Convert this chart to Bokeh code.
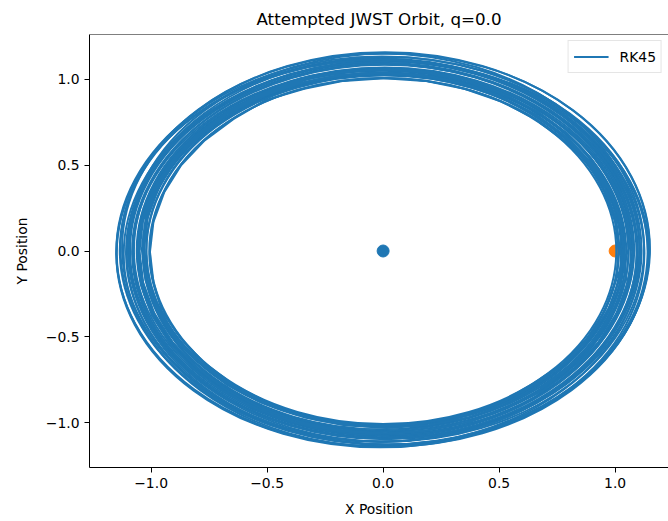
from bokeh.plotting import figure
from bokeh.models import Range1d, FixedTicker, Span
from bokeh.embed import file_html
from bokeh.resources import INLINE

# ---------------- data ----------------
sun_x = [0.0]
sun_y = [0.0]
earth_x = [1.0]
earth_y = [0.0]

x_ticks = [-1.0, -0.5, 0.0, 0.5, 1.0]
x_tick_labels = ["\u22121.0", "\u22120.5", "0.0", "0.5", "1.0"]
y_ticks = [-1.0, -0.5, 0.0, 0.5, 1.0]
y_tick_labels = ["\u22121.0", "\u22120.5", "0.0", "0.5", "1.0"]

# smooth revolutions of the orbit: centre, full width and full height of each loop
loop_cx = [0.000, 0.004, -0.003, 0.005, -0.004, 0.002, 0.006, -0.006, 0.003, -0.002,
           0.007, -0.005, 0.004, -0.007, 0.008, 0.000, -0.008, 0.010,
           0.015, -0.015, 0.020, -0.010, 0.012, -0.020, 0.025, -0.005, 0.008, -0.012]
loop_cy = [0.000, -0.003, 0.004, 0.002, -0.004, 0.006, -0.005, 0.003, -0.002, 0.005,
           0.000, -0.006, 0.007, 0.002, -0.004, 0.008, -0.007, 0.004,
           0.010, 0.005, -0.010, 0.020, -0.018, -0.012, 0.012, -0.003, 0.015, -0.015]
loop_w = [2.010, 2.024, 2.036, 2.050, 2.060, 2.072, 2.084, 2.096, 2.108, 2.120,
          2.132, 2.144, 2.156, 2.168, 2.180, 2.190, 2.200, 2.208,
          2.220, 2.240, 2.250, 2.230, 2.260, 2.256, 2.250, 2.290, 2.280, 2.276]
loop_h = [2.016, 2.020, 2.044, 2.040, 2.068, 2.060, 2.090, 2.092, 2.116, 2.112,
          2.136, 2.140, 2.160, 2.172, 2.176, 2.196, 2.204, 2.200,
          2.240, 2.230, 2.236, 2.260, 2.244, 2.250, 2.276, 2.270, 2.284, 2.256]

# jagged inner revolutions of the RK45 trajectory (one continuous path)
orbit_x = [
    1.070, 1.054, 1.006, 0.928, 0.822, 0.691, 0.540, 0.373, 0.194, 0.010, -0.174, -0.356, -0.520, -0.671, -0.802, -0.908, -0.986, -1.034, -1.050, -1.034, -0.986, -0.908, -0.802, -0.671, -0.520, -0.353, -0.174, 0.010, 0.194, 0.373, 0.536, 0.691, 0.822, 0.928, 1.006, 1.054,
    1.020, 1.004, 0.958, 0.882, 0.779, 0.646, 0.505, 0.342, 0.169, -0.010, -0.189, -0.362, -0.525, -0.672, -0.792, -0.902, -0.978, -1.024, -1.040, -1.024, -0.978, -0.902, -0.793, -0.672, -0.525, -0.362, -0.189, -0.010, 0.169, 0.342, 0.505, 0.647, 0.779, 0.882, 0.958, 1.004,
    1.015, 1.000, 0.954, 0.888, 0.779, 0.654, 0.510, 0.350, 0.180, 0.005, -0.170, -0.340, -0.505, -0.644, -0.769, -0.870, -0.944, -0.990, -1.005, -0.990, -0.953, -0.870, -0.769, -0.644, -0.500, -0.344, -0.170, 0.005, 0.180, 0.350, 0.510, 0.654, 0.779, 0.880, 0.954, 1.000,
    1.060, 1.044, 0.997, 0.920, 0.815, 0.687, 0.538, 0.372, 0.196, 0.015, -0.166, -0.342, -0.508, -0.657, -0.785, -0.890, -0.967, -1.014, -1.030, -1.014, -0.967, -0.890, -0.785, -0.657, -0.508, -0.342, -0.166, 0.015, 0.196, 0.372, 0.538, 0.687, 0.815, 0.920, 0.997, 1.044,
    1.040, 1.024, 0.977, 0.899, 0.794, 0.665, 0.515, 0.349, 0.172, -0.010, -0.192, -0.369, -0.535, -0.685, -0.814, -0.919, -0.997, -1.044, -1.060, -1.044, -0.997, -0.919, -0.814, -0.685, -0.535, -0.369, -0.192, -0.010, 0.172, 0.349, 0.515, 0.665, 0.794, 0.899, 0.977, 1.024,
    1.035, 1.019, 0.973, 0.896, 0.793, 0.665, 0.518, 0.354, 0.180, 0.000, -0.180, -0.354, -0.518, -0.665, -0.793, -0.896, -0.973, -1.019, -1.035, -1.019, -0.973, -0.896, -0.793, -0.665, -0.518, -0.354, -0.180, 0.000, 0.180, 0.354, 0.518, 0.665, 0.793, 0.896, 0.973, 1.019,
    1.035,
]

orbit_y = [
    0.000, 0.184, 0.363, 0.530, 0.681, 0.812, 0.918, 0.996, 1.044, 1.060, 1.044, 1.004, 0.918, 0.812, 0.681, 0.530, 0.363, 0.184, 0.000, -0.184, -0.363, -0.530, -0.681, -0.812, -0.918, -0.996, -1.044, -1.060, -1.044, -0.996, -0.910, -0.812, -0.681, -0.530, -0.363, -0.184,
    0.010, 0.189, 0.362, 0.525, 0.672, 0.792, 0.902, 0.978, 1.024, 1.040, 1.024, 0.978, 0.902, 0.799, 0.667, 0.525, 0.362, 0.189, 0.010, -0.169, -0.342, -0.505, -0.646, -0.779, -0.882, -0.958, -1.004, -1.020, -1.004, -0.958, -0.882, -0.772, -0.652, -0.505, -0.342, -0.169,
    -0.005, 0.170, 0.340, 0.505, 0.644, 0.769, 0.870, 0.944, 0.990, 1.005, 0.990, 0.944, 0.879, 0.769, 0.644, 0.500, 0.340, 0.170, -0.005, -0.180, -0.352, -0.510, -0.654, -0.779, -0.880, -0.962, -1.000, -1.015, -1.000, -0.954, -0.880, -0.779, -0.654, -0.510, -0.350, -0.180,
    0.015, 0.196, 0.372, 0.538, 0.687, 0.815, 0.920, 0.997, 1.044, 1.060, 1.044, 0.997, 0.920, 0.815, 0.687, 0.538, 0.372, 0.196, 0.015, -0.166, -0.342, -0.508, -0.657, -0.785, -0.890, -0.967, -1.014, -1.030, -1.014, -0.967, -0.890, -0.785, -0.657, -0.508, -0.342, -0.166,
    -0.015, 0.167, 0.344, 0.510, 0.660, 0.789, 0.894, 0.972, 1.019, 1.035, 1.019, 0.972, 0.894, 0.789, 0.660, 0.510, 0.344, 0.167, -0.015, -0.197, -0.374, -0.540, -0.690, -0.819, -0.924, -1.002, -1.049, -1.065, -1.049, -1.002, -0.924, -0.819, -0.690, -0.540, -0.374, -0.197,
    0.020, 0.200, 0.374, 0.538, 0.685, 0.813, 0.916, 0.993, 1.039, 1.055, 1.039, 0.993, 0.916, 0.813, 0.685, 0.538, 0.374, 0.200, 0.020, -0.160, -0.334, -0.498, -0.645, -0.773, -0.876, -0.953, -0.999, -1.015, -0.999, -0.953, -0.876, -0.773, -0.645, -0.498, -0.334, -0.160,
    0.020,
]

n = min(len(orbit_x), len(orbit_y))
orbit_x = orbit_x[:n]
orbit_y = orbit_y[:n]

# ---------------- styling ----------------
FONT = "DejaVu Sans"
BLUE = "#1f77b4"
ORANGE = "#ff7f0e"

p = figure(
    width=668, height=521,
    output_backend="svg", toolbar_location=None,
    x_range=Range1d(-1.2655, 1.230), y_range=Range1d(-1.26, 1.26),
    min_border_left=89, min_border_right=0, min_border_top=32, min_border_bottom=54,
    title="Attempted JWST Orbit, q=0.0",
)
p.background_fill_color = "white"
p.border_fill_color = "white"
p.outline_line_color = None
p.grid.visible = False

p.title.align = "center"
p.title.text_font = FONT
p.title.text_font_size = "16.7px"
p.title.text_font_style = "normal"
p.title.text_color = "black"
p.title.standoff = 12
p.title.offset = 3

for ax, ticks, labels in ((p.xaxis[0], x_ticks, x_tick_labels), (p.yaxis[0], y_ticks, y_tick_labels)):
    ax.ticker = FixedTicker(ticks=ticks)
    ax.major_label_overrides = dict(zip(ticks, labels))
    ax.major_label_text_font = FONT
    ax.major_label_text_font_size = "13.9px"
    ax.major_label_text_color = "black"
    ax.major_label_standoff = 5
    ax.major_tick_out = 5
    ax.major_tick_in = 0
    ax.major_tick_line_color = "black"
    ax.minor_tick_line_color = None
    ax.axis_line_color = "black"
    ax.axis_line_width = 1
    ax.axis_label_text_font = FONT
    ax.axis_label_text_font_size = "13.9px"
    ax.axis_label_text_font_style = "normal"
    ax.axis_label_text_color = "black"

p.xaxis.axis_label = "X Position"
p.yaxis.axis_label = "Y Position"
p.xaxis.axis_label_standoff = 10
p.yaxis.axis_label_standoff = 13

top_spine = Span(location=1.26, dimension="width", line_color="black", line_width=1)
p.add_layout(top_spine)

p.scatter(sun_x, sun_y, size=12, color=BLUE)
p.scatter(earth_x, earth_y, size=12, color=ORANGE)
p.ellipse(x=loop_cx, y=loop_cy, width=loop_w, height=loop_h,
          fill_color=None, line_color=BLUE, line_width=2)
p.line(orbit_x, orbit_y, line_width=2, color=BLUE, legend_label="RK45")

lg = p.legend[0]
lg.location = "top_right"
lg.margin = 6
lg.padding = 5
lg.spacing = 0
lg.glyph_width = 35
lg.glyph_height = 21
lg.label_height = 21
lg.label_standoff = 11
lg.label_text_font = FONT
lg.label_text_font_size = "13.9px"
lg.label_text_color = "black"
lg.border_line_color = "#cccccc"
lg.border_line_width = 1
lg.background_fill_alpha = 0.8

open("out.html", "w").write(file_html(p, INLINE))
